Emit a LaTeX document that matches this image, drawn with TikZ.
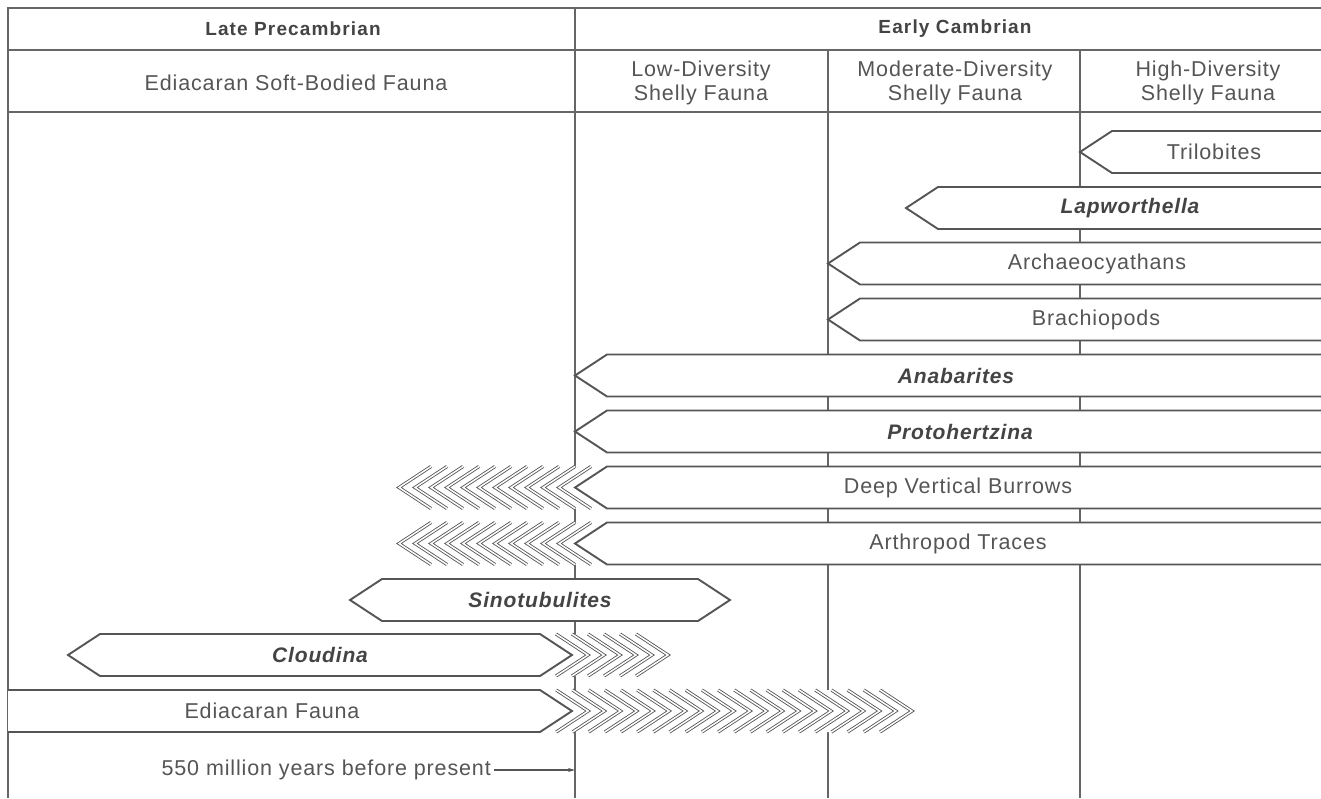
\documentclass[tikz,border=0pt]{standalone}
\usepackage{fontspec}
\setmainfont{Liberation Sans}[LetterSpace=4]
\newfontfamily\headfont{Liberation Sans}[LetterSpace=6]
\usetikzlibrary{arrows.meta}
\definecolor{gridc}{HTML}{666666}
\definecolor{barc}{HTML}{555555}
\definecolor{txtc}{HTML}{555555}
\newcommand\leftbar[2]{%
  \fill[white] (1330,#1-21) -- (#2+32,#1-21) -- (#2,#1) -- (#2+32,#1+21) -- (1330,#1+21) -- cycle;
  \draw[barline] (1330,#1-21) -- (#2+32,#1-21) -- (#2,#1) -- (#2+32,#1+21) -- (1330,#1+21);
}
\begin{document}
\begin{tikzpicture}[x=1pt,y=-1pt,
  gridline/.style={draw=gridc, line width=1.2pt},
  barline/.style={draw=barc, line width=1.9pt, line join=miter},
  hatch/.style={draw=barc, line width=0.85pt, double=white, double distance=1.5pt, line join=miter},
  lbl/.style={text=txtc, inner sep=0pt, font=\fontsize{21.5}{24}\selectfont},
  ital/.style={text=txtc!80!black, inner sep=0pt, font=\fontsize{21}{24}\selectfont\bfseries\itshape},
  head/.style={text=txtc!80!black, inner sep=0pt, font=\headfont\fontsize{19}{22}\selectfont\bfseries},
  sub/.style={text=txtc, inner sep=0pt, align=center, font=\fontsize{21.5}{23.5}\selectfont}]
\useasboundingbox (0,0) rectangle (1321,798);
\fill[white] (0,0) rectangle (1321,798);
% grid
\draw[gridline] (1321,8) -- (8,8) -- (8,798);
\draw[gridline] (8,50) -- (1321,50);
\draw[gridline] (8,112) -- (1321,112);
\draw[gridline] (575,8) -- (575,798);
\draw[gridline] (828,50) -- (828,798);
\draw[gridline] (1080,50) -- (1080,798);
\coordinate (vline) at (575,798);
% headers
\node[head] (hlate) at (293,29) {Late Precambrian};
\node[head] (hearly) at (955,29) {Early Cambrian};
\node[sub] (sedi) at (296,83) {Ediacaran Soft-Bodied Fauna};
\node[sub] (slow) at (701,83) {Low-Diversity\\Shelly Fauna};
\node[sub] (smod) at (955,83) {Moderate-Diversity\\Shelly Fauna};
\node[sub] (shigh) at (1208,83) {High-Diversity\\Shelly Fauna};
% bars from the right edge
\leftbar{152}{1080}
\node[lbl] (tri) at (1214,152) {Trilobites};
\leftbar{208}{906}
\node[ital] (lap) at (1130,208) {Lapworthella};
\leftbar{263.5}{828}
\node[lbl] (arc) at (1097,263.5) {Archaeocyathans};
\leftbar{319.5}{828}
\node[lbl] (bra) at (1096,319.5) {Brachiopods};
\leftbar{375.5}{575}
\node[ital] (ana) at (956,375.5) {Anabarites};
\leftbar{431.5}{575}
\node[ital] (pro) at (960,431.5) {Protohertzina};
% deep vertical burrows with hatching
\fill[white] (607,466.5) -- (431,466.5) -- (399,487.5) -- (431,508.5) -- (607,508.5) -- cycle;
\foreach \k in {1,...,11} \draw[hatch] ({575-16*\k+32},466.5) -- ({575-16*\k},487.5) -- ({575-16*\k+32},508.5);
\leftbar{487.5}{575}
\node[lbl] (dvb) at (958,487.5) {Deep Vertical Burrows};
% arthropod traces with hatching
\fill[white] (607,522.5) -- (431,522.5) -- (399,543.5) -- (431,564.5) -- (607,564.5) -- cycle;
\foreach \k in {1,...,11} \draw[hatch] ({575-16*\k+32},522.5) -- ({575-16*\k},543.5) -- ({575-16*\k+32},564.5);
\leftbar{543.5}{575}
\node[lbl] (art) at (958,543.5) {Arthropod Traces};
% Sinotubulites
\filldraw[barline, fill=white] (350,600) -- (382,579) -- (698,579) -- (730,600) -- (698,621) -- (382,621) -- cycle;
\node[ital] (sino) at (540,600) {Sinotubulites};
% Cloudina
\fill[white] (540,634) -- (636,634) -- (668,655) -- (636,676) -- (540,676) -- cycle;
\foreach \k in {1,...,6} \draw[hatch] ({572+16*\k-32},634) -- ({572+16*\k},655) -- ({572+16*\k-32},676);
\filldraw[barline, fill=white] (68,655) -- (100,634) -- (540,634) -- (572,655) -- (540,676) -- (100,676) -- cycle;
\node[ital] (clo) at (320,655) {Cloudina};
% Ediacaran Fauna
\fill[white] (540,690) -- (880,690) -- (912,711) -- (880,732) -- (540,732) -- cycle;
\foreach \k in {1,...,21} \draw[hatch] ({572+16.19*\k-32},690) -- ({572+16.19*\k},711) -- ({572+16.19*\k-32},732);
\fill[white] (8,690) -- (540,690) -- (572,711) -- (540,732) -- (8,732) -- cycle;
\draw[barline] (8,690) -- (540,690) -- (572,711) -- (540,732) -- (8,732);
\node[lbl] (edi) at (272,711) {Ediacaran Fauna};
% time marker
\node[lbl, anchor=east] (t550) at (491,770) {550 million years before present};
\draw[draw=barc, line width=1.1pt, -{Stealth[length=7pt,width=4pt]}] (t550.east) ++(3,0) -- (vline |- t550.east);
\end{tikzpicture}
\end{document}
